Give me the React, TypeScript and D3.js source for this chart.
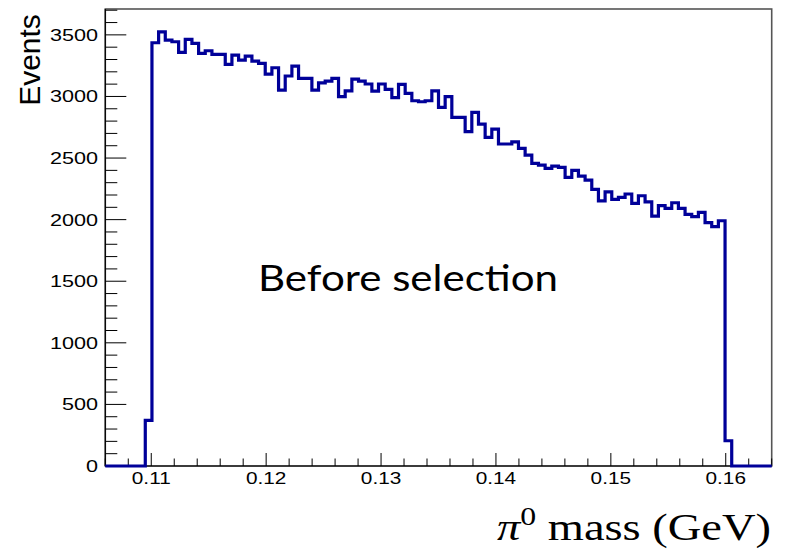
import React from 'react';
import * as d3 from 'd3';

const X_MIN = 0.106;
const X_MAX = 0.164;
const N_BINS = 100;
const Y_MAX = 3710;

// Bin contents (100 bins, 0.106 – 0.164 GeV)
const counts: number[] = [
  0, 0, 0, 0, 0, 0, 370, 3436, 3525, 3458,
  3444, 3358, 3463, 3431, 3350, 3371, 3341, 3341, 3260, 3336,
  3295, 3328, 3287, 3268, 3182, 3233, 3052, 3166, 3247, 3147,
  3147, 3052, 3110, 3125, 3147, 2998, 3046, 3141, 3125, 3101,
  3044, 3101, 3058, 2990, 3098, 3025, 2965, 2957, 2965, 3046,
  2912, 2998, 2830, 2830, 2714, 2871, 2776, 2668, 2735, 2614,
  2614, 2632, 2579, 2524, 2457, 2443, 2416, 2435, 2424, 2343,
  2400, 2354, 2321, 2246, 2153, 2226, 2164, 2181, 2208, 2132,
  2194, 2145, 2029, 2113, 2092, 2137, 2092, 2043, 2024, 2059,
  1975, 1943, 1991, 205, 0, 0, 0, 0, 0, 0,
];

const yTicks = [0, 500, 1000, 1500, 2000, 2500, 3000, 3500];
const yMinorStep = 100;
const xTicks = [0.11, 0.12, 0.13, 0.14, 0.15, 0.16];
const xTickLabels = ['0.11', '0.12', '0.13', '0.14', '0.15', '0.16'];
const xMinorStep = 0.002;
const yTitle = 'Events';
const annotation = 'Before selection';

const W = 786;
const H = 552;
const FRAME = { left: 105.3, right: 771.7, top: 9, bottom: 466 };

export default function App() {
  const x = d3.scaleLinear().domain([X_MIN, X_MAX]).range([FRAME.left, FRAME.right]);
  const y = d3.scaleLinear().domain([0, Y_MAX]).range([FRAME.bottom, FRAME.top]);
  const bw = (X_MAX - X_MIN) / N_BINS;

  const pts: [number, number][] = counts.map((c, i) => [X_MIN + i * bw, c]);
  pts.push([X_MAX, counts[counts.length - 1]]);
  const line = d3
    .line<[number, number]>()
    .x((d) => x(d[0]))
    .y((d) => y(d[1]))
    .curve(d3.curveStepAfter);
  const path = line(pts) || '';

  const yMinor = d3.range(0, Y_MAX, yMinorStep);
  const xMinor = d3.range(0, 40).map((i) => 0.106 + i * xMinorStep).filter((v) => v <= X_MAX + 1e-9);

  const tickFont = "'Liberation Sans', Arial, Helvetica, sans-serif";

  return (
    <svg
      width={W}
      height={H}
      style={{ position: 'absolute', left: 0, top: 0, background: '#fff' }}
    >
      <rect x={0} y={0} width={W} height={H} fill="#fff" />
      {/* frame */}
      <rect
        x={FRAME.left}
        y={FRAME.top}
        width={FRAME.right - FRAME.left}
        height={FRAME.bottom - FRAME.top}
        fill="none"
        stroke="#555"
        strokeWidth={1.6}
      />
      {/* y axis */}
      <line x1={FRAME.left} x2={FRAME.left} y1={FRAME.top} y2={FRAME.bottom} stroke="#000" strokeWidth={1.2} />
      {yMinor.map((v) => {
        const major = v % 500 === 0;
        return (
          <line
            key={'ym' + v}
            x1={FRAME.left}
            x2={FRAME.left + (major ? 21 : 12)}
            y1={y(v)}
            y2={y(v)}
            stroke="#000"
            strokeWidth={1}
          />
        );
      })}
      {yTicks.map((v) => (
        <g key={'yl' + v} transform={`translate(98,${y(v) + 6}) scale(1.35,1)`}>
          <text textAnchor="end" fontFamily={tickFont} fontSize={16} fill="#000">
            {String(v)}
          </text>
        </g>
      ))}
      {/* x axis */}
      <line x1={FRAME.left} x2={FRAME.right} y1={FRAME.bottom} y2={FRAME.bottom} stroke="#000" strokeWidth={1.2} />
      {xMinor.map((v, i) => {
        const major = xTicks.some((t) => Math.abs(t - v) < 1e-9);
        return (
          <line
            key={'xm' + i}
            x1={x(v)}
            x2={x(v)}
            y1={FRAME.bottom}
            y2={FRAME.bottom - (major ? 13 : 7.5)}
            stroke="#000"
            strokeWidth={1}
          />
        );
      })}
      {xTicks.map((v, i) => (
        <g key={'xl' + v} transform={`translate(${x(v)},484) scale(1.3,1)`}>
          <text textAnchor="middle" fontFamily={tickFont} fontSize={16} fill="#000">
            {xTickLabels[i]}
          </text>
        </g>
      ))}
      {/* histogram */}
      <path d={path} fill="none" stroke="#000099" strokeWidth={3.2} strokeLinejoin="miter" />
      {/* titles */}
      <g transform="translate(40,60) rotate(-90)">
        <text textAnchor="middle" fontFamily={tickFont} fontSize={30} fill="#000">
          {yTitle}
        </text>
      </g>
      <text
        x={258}
        y={291}
        fontFamily="Lato, 'Open Sans', sans-serif"
        fontSize={36}
        textLength={300}
        lengthAdjust="spacingAndGlyphs"
        fill="#000"
      >
        {annotation}
      </text>
      <text
        x={497}
        y={540}
        fontFamily="'Liberation Serif', 'Times New Roman', serif"
        fontSize={38}
        textLength={274}
        lengthAdjust="spacingAndGlyphs"
        fill="#000"
      >
        <tspan fontStyle="italic">π</tspan>
        <tspan dy={-15} fontSize={26}>0</tspan>
        <tspan dy={15}> mass (GeV)</tspan>
      </text>
    </svg>
  );
}
